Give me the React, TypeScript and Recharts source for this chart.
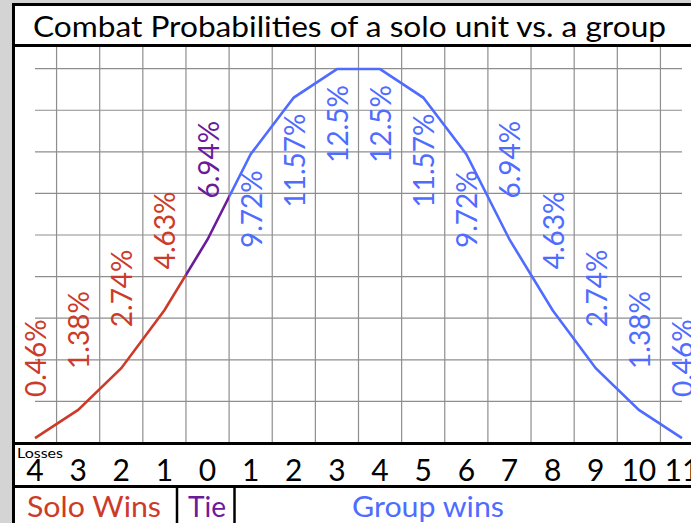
import React from 'react';
import { LineChart, Line, XAxis, YAxis, CartesianGrid, LabelList } from 'recharts';

// ---- data ----
const xLabels = ['4', '3', '2', '1', '0', '1', '2', '3', '4', '5', '6', '7', '8', '9', '10', '11'];
const probabilities = [0.46, 1.38, 2.74, 4.63, 6.94, 9.72, 11.57, 12.5, 12.5, 11.57, 9.72, 6.94, 4.63, 2.74, 1.38, 0.46];
const outcomes = ['solo', 'solo', 'solo', 'solo', 'tie', 'group', 'group', 'group', 'group', 'group', 'group', 'group', 'group', 'group', 'group', 'group'];
const sectionLabels = ['Solo Wins', 'Tie', 'Group wins'];
const titleText = 'Combat Probabilities of a solo unit vs. a group';
const axisNote = 'Losses';

const COLORS: Record<string, string> = {
  solo: '#cc3b2a',
  tie: '#6a1a9a',
  group: '#4f6cff',
};

const FONT = 'Lato, "Open Sans", sans-serif';

const data = probabilities.map((p, i) => ({ i, p, label: xLabels[i], outcome: outcomes[i] }));

const N = data.length;
const firstTie = outcomes.indexOf('tie');
const firstGroup = outcomes.indexOf('group');
const cut1 = (firstTie - 0.5) / (N - 1);
const cut2 = (firstGroup - 0.5) / (N - 1);

const renderLabel = (props: any) => {
  const { x, y, value, index } = props;
  const color = COLORS[outcomes[index]];
  const high = value > 8;
  const ay = high ? y + 16 : y - 41;
  return (
    <text
      key={`lbl-${index}`}
      x={x}
      y={ay}
      transform={`rotate(-90, ${x}, ${ay})`}
      textAnchor={high ? 'end' : 'start'}
      dominantBaseline="central"
      fill={color}
      fontFamily={FONT}
      fontSize={28}
    >
      {`${value}%`}
    </text>
  );
};

const XTick = (props: any) => {
  const { x, y, payload } = props;
  return (
    <text x={x} y={y} dy={30} textAnchor="middle" fill="#000" fontFamily={FONT} fontSize={30}>
      {xLabels[payload.value]}
    </text>
  );
};

export default function App() {
  return (
    <div style={{ position: 'absolute', left: 0, top: 0, width: 691, height: 523, background: '#d4d4d4', overflow: 'hidden' }}>
      <div style={{ position: 'absolute', left: 12, top: 3, width: 679, height: 520, background: '#ffffff' }} />
      <div style={{ position: 'absolute', left: 0, top: 0 }}>
        <LineChart width={691} height={523} data={data} margin={{ top: 47, right: 9, bottom: 0, left: 35 }}>
          <defs>
            <linearGradient id="outcomeGrad" x1="0" y1="0" x2="1" y2="0">
              <stop offset={0} stopColor={COLORS.solo} />
              <stop offset={cut1} stopColor={COLORS.solo} />
              <stop offset={cut1} stopColor={COLORS.tie} />
              <stop offset={cut2} stopColor={COLORS.tie} />
              <stop offset={cut2} stopColor={COLORS.group} />
              <stop offset={1} stopColor={COLORS.group} />
            </linearGradient>
          </defs>
          <CartesianGrid
            stroke="#8e8e8e"
            strokeWidth={1.2}
            horizontalCoordinatesGenerator={({ offset }: any) => {
              const bottom = offset.top + offset.height;
              const rowH = offset.height / 9.52;
              const out: number[] = [];
              for (let k = 1; k <= 9; k++) out.push(bottom - k * rowH);
              return out;
            }}
            verticalCoordinatesGenerator={({ offset }: any) => {
              const step = offset.width / (N - 1);
              const out: number[] = [];
              for (let k = 0; k < N - 1; k++) out.push(offset.left + (k + 0.5) * step);
              return out;
            }}
          />
          <XAxis
            dataKey="i"
            type="number"
            domain={[0, N - 1]}
            ticks={data.map((d) => d.i)}
            interval={0}
            height={80}
            axisLine={false}
            tickLine={false}
            tick={<XTick />}
          />
          <YAxis hide type="number" domain={[0.3, 13.22]} allowDataOverflow />
          <Line
            type="linear"
            dataKey="p"
            stroke="url(#outcomeGrad)"
            strokeWidth={2.6}
            dot={false}
            activeDot={false}
            isAnimationActive={false}
          >
            <LabelList dataKey="p" content={renderLabel} />
          </Line>
        </LineChart>
      </div>
      <svg width={691} height={523} style={{ position: 'absolute', left: 0, top: 0, pointerEvents: 'none' }}>
        <line x1={12} y1={4.5} x2={691} y2={4.5} stroke="#000" strokeWidth={3} />
        <line x1={13.5} y1={3} x2={13.5} y2={523} stroke="#000" strokeWidth={3} />
        <line x1={12} y1={45.5} x2={691} y2={45.5} stroke="#000" strokeWidth={3} />
        <line x1={12} y1={443.5} x2={691} y2={443.5} stroke="#000" strokeWidth={3} />
        <line x1={12} y1={486.5} x2={691} y2={486.5} stroke="#000" strokeWidth={3} />
        <line x1={177} y1={487} x2={177} y2={523} stroke="#000" strokeWidth={2.5} />
        <line x1={234.5} y1={487} x2={234.5} y2={523} stroke="#000" strokeWidth={2.5} />
        <text x={33} y={37} fontFamily={FONT} fontSize={28} fill="#000" textLength={633} lengthAdjust="spacingAndGlyphs">
          {titleText}
        </text>
        <text x={17} y={458} fontFamily={FONT} fontSize={13} fill="#000" textLength={46} lengthAdjust="spacingAndGlyphs">
          {axisNote}
        </text>
        <text x={27} y={517} fontFamily={FONT} fontSize={29} fill={COLORS.solo} textLength={134} lengthAdjust="spacingAndGlyphs">
          {sectionLabels[0]}
        </text>
        <text x={188} y={517} fontFamily={FONT} fontSize={29} fill={COLORS.tie} textLength={38} lengthAdjust="spacingAndGlyphs">
          {sectionLabels[1]}
        </text>
        <text x={352} y={517} fontFamily={FONT} fontSize={29} fill={COLORS.group} textLength={152} lengthAdjust="spacingAndGlyphs">
          {sectionLabels[2]}
        </text>
      </svg>
    </div>
  );
}
